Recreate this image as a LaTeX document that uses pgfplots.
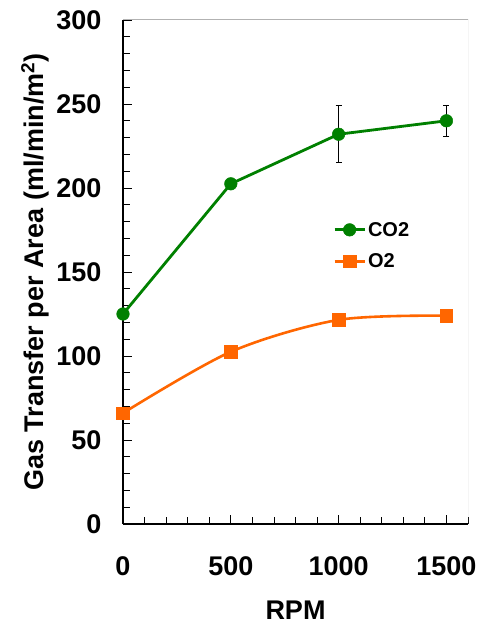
\documentclass[border=0pt]{standalone}
\usepackage{fontspec}
\setmainfont{Liberation Sans}
\usepackage{pgfplots}
\pgfplotsset{compat=1.18}
\definecolor{cogreen}{HTML}{008000}
\definecolor{oorange}{HTML}{FF6600}

\begin{document}
\begin{tikzpicture}
% page frame around the axis
\path[use as bounding box] (-123pt,-104pt) rectangle (358pt,524pt);
\begin{axis}[
  scale only axis, width=345pt, height=504pt,
  xmin=0, xmax=1600, ymin=0, ymax=300,
  axis lines=left,
  axis line style={-, line width=1.2pt, black},
  xtick={0,500,1000,1500},
  minor xtick={100,200,...,1600},
  ytick={0,50,...,300},
  minor ytick={10,20,...,290},
  tick align=inside,
  major tick length=9pt, minor tick length=7pt,
  every tick/.style={black, line width=0.8pt},
  /pgf/number format/assume math mode=true,
  /pgf/number format/1000 sep={},
  ticklabel style={font=\fontsize{27}{32}\selectfont\bfseries},
  xticklabel style={yshift=-29pt},
  yticklabel style={xshift=-18pt},
  xlabel={RPM},
  ylabel={Gas Transfer per Area (ml/min/m\textsuperscript{2})},
  every axis x label/.style={at={(axis description cs:0.5,-0.171)}, anchor=center,
    font=\fontsize{27}{32}\selectfont\bfseries},
  every axis y label/.style={at={(axis description cs:-0.255,0.5)}, rotate=90, anchor=center,
    font=\fontsize{27}{32}\selectfont\bfseries},
  legend style={at={(axis cs:974,181)}, anchor=north west, draw=none, fill=none,
    inner sep=0pt, row sep=12pt,
    font=\fontsize{20}{24}\selectfont\bfseries},
  legend cell align=left,
  legend image code/.code={%
    \draw[mark repeat=2,mark phase=2] plot coordinates {(0pt,0pt) (15pt,0pt) (30pt,0pt)};},
]
% frame on the top and right sides
\draw[gray!60, line width=1pt] (rel axis cs:0,1) -- (rel axis cs:1,1) -- (rel axis cs:1,0);

\addplot[cogreen, line width=2.8pt, mark=*, mark size=6.3pt,
  mark options={line width=0.5pt},
  error bars/.cd, y dir=both, y explicit,
  error bar style={black, line width=0.8pt},
  error mark options={black, line width=0.8pt, mark size=3pt, rotate=90}]
  coordinates {
    (0,125) +- (0,2)
    (500,202.5) +- (0,2)
    (1000,232) +- (0,17)
    (1500,240) +- (0,9)
  };
\addlegendentry{CO2}

\addplot[oorange, line width=2.6pt, smooth, mark=square*, mark size=6.3pt,
  mark options={line width=0.5pt}]
  coordinates {
    (0,66)
    (500,102.5)
    (1000,121.5)
    (1500,124)
  };
\addlegendentry{O2}
\end{axis}
\end{tikzpicture}
\end{document}
